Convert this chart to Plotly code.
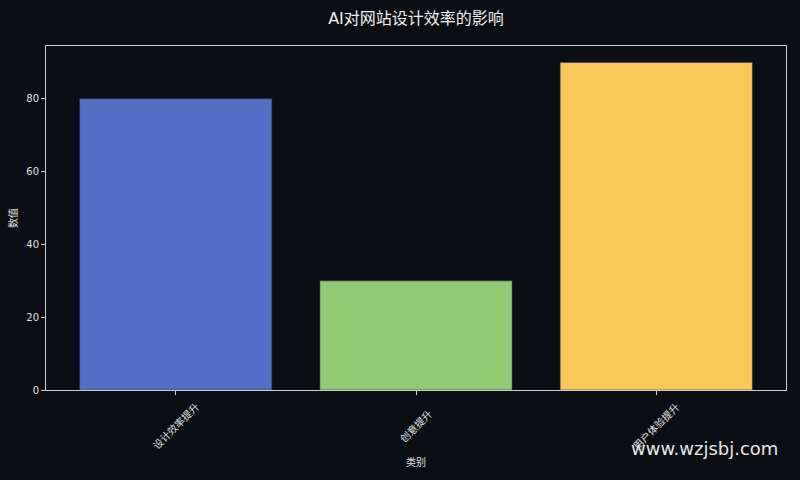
import plotly.graph_objects as go

# --- data ---
categories = ["设计效率提升", "创意提升", "用户体验提升"]
values = [80, 30, 90]
bar_colors = ["#5470c6", "#91cc75", "#fac858"]
y_ticks = [0, 20, 40, 60, 80]

BG = "#0b0e14"
TXT = "#e0e0e0"
FONT = "DejaVu Sans, Noto Sans CJK SC, sans-serif"

fig = go.Figure(go.Bar(
    x=list(range(len(categories))), y=values, width=0.8,
    marker=dict(color=bar_colors, line=dict(color="#2a3550", width=0.6)),
))

# rotated category labels, centred on the ticks like matplotlib does
for i, cat in enumerate(categories):
    fig.add_annotation(x=i, y=-0.105, xref="x", yref="paper", text=cat,
                       textangle=-45, showarrow=False,
                       xanchor="center", yanchor="middle",
                       font=dict(size=10, color=TXT, family=FONT))

# watermark
fig.add_annotation(x=0.992, y=-0.17, xref="paper", yref="paper",
                   text="www.wzjsbj.com", showarrow=False,
                   xanchor="right", yanchor="middle",
                   font=dict(size=18, color="#e6e6e6", family="DejaVu Sans"))

fig.update_layout(
    width=800, height=480,
    paper_bgcolor=BG, plot_bgcolor=BG,
    margin=dict(l=46, r=14, t=46, b=90),
    showlegend=False,
    font=dict(family=FONT, color=TXT, size=10),
    title=dict(text="AI对网站设计效率的影响", x=0.52, xanchor="center",
               y=0.962, yanchor="middle",
               font=dict(size=16, color="#f0f0f0", family=FONT)),
)
fig.update_xaxes(range=[-0.54, 2.54], tickvals=list(range(len(categories))),
                 ticktext=[""] * len(categories), ticks="outside", ticklen=4,
                 tickcolor="#cccccc", showgrid=False, zeroline=False,
                 showline=True, linecolor="#cccccc", linewidth=1, mirror=True,
                 title=dict(text="类别", standoff=62, font=dict(size=10, color=TXT)))
fig.update_yaxes(range=[0, 94.5], tickvals=y_ticks, ticks="outside", ticklen=4,
                 tickcolor="#cccccc", showgrid=False, zeroline=False,
                 showline=True, linecolor="#cccccc", linewidth=1, mirror=True,
                 tickfont=dict(size=10, color=TXT),
                 title=dict(text="数值", standoff=6, font=dict(size=10, color=TXT)))

fig.write_html("out.html", config={"displayModeBar": False},
               post_script="document.body.style.margin='0';"
                           f"document.body.style.background='{BG}';")
